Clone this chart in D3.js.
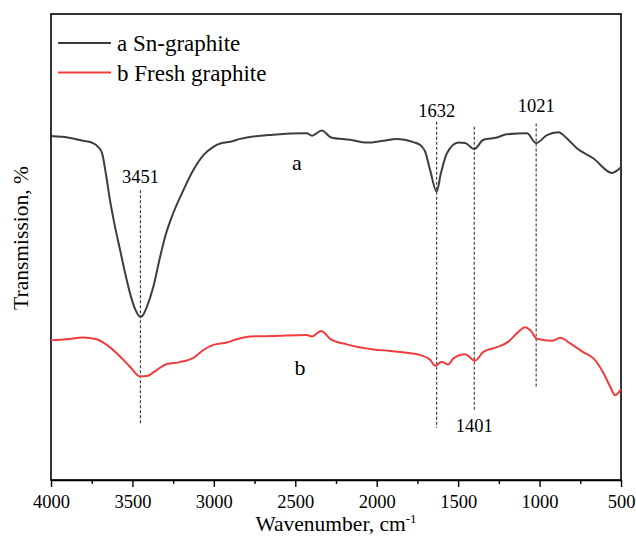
<!DOCTYPE html>
<html>
<head>
<meta charset="utf-8">
<script src="https://cdn.jsdelivr.net/npm/d3@7"></script>
<style>
  body { margin: 0; background: #fff; }
  text { font-family: "Liberation Serif", "Times New Roman", serif; fill: #000; }
</style>
</head>
<body>
<div id="content"></div>
<script>
// spectrum a : Sn-graphite
var waveA = [4000, 3883, 3803, 3742, 3711, 3687, 3662, 3638, 3613, 3576, 3545, 3515, 3484, 3451, 3435, 3412,
             3372, 3330, 3300, 3249, 3187, 3126, 3064, 3003, 2951, 2900, 2839, 2636, 2429, 2397, 2337, 2280,
             2163, 2061, 1959, 1877, 1775, 1733, 1703, 1672, 1632, 1606, 1569, 1498, 1457, 1401, 1345, 1262,
             1201, 1078, 1021, 955, 884, 832, 771, 669, 556, 500];
var transA = [73.8, 73.4, 72.8, 72.3, 71.5, 70.2, 65.5, 60.1, 55.4, 49.4, 44.4, 40.1, 36.7, 35.0, 35.4, 37.1,
              41.4, 47.9, 52.1, 57.3, 62.2, 66.5, 69.7, 71.5, 72.3, 72.6, 73.2, 74.1, 74.4, 73.9, 75.0, 73.5,
              73.0, 72.4, 72.8, 73.2, 72.5, 71.9, 70.5, 66.5, 61.9, 65.8, 70.1, 72.4, 72.3, 71.0, 73.0, 73.5,
              74.2, 74.4, 72.3, 74.0, 74.6, 73.3, 71.2, 69.0, 65.9, 67.1];

// spectrum b : fresh graphite
var waveB = [4000, 3904, 3802, 3719, 3658, 3596, 3515, 3453, 3412, 3351, 3289, 3208, 3126, 3064, 3003, 2921,
             2859, 2778, 2635, 2429, 2399, 2341, 2286, 2184, 2020, 1918, 1815, 1723, 1672, 1641, 1600, 1560,
             1529, 1457, 1396, 1345, 1262, 1191, 1139, 1088, 1058, 1017, 924, 873, 812, 730, 669, 607,
             566, 536, 500];
var transB = [30.0, 30.2, 30.6, 30.2, 29.0, 27.2, 24.3, 22.2, 22.3, 23.6, 24.9, 25.3, 26.2, 27.9, 29.0, 29.5,
              30.2, 30.8, 30.9, 31.1, 30.8, 32.0, 30.3, 29.1, 28.0, 27.7, 27.3, 26.7, 25.8, 24.5, 25.4, 24.8,
              26.1, 27.0, 25.6, 27.5, 28.5, 29.7, 31.5, 32.8, 32.2, 30.3, 29.9, 30.5, 29.3, 27.4, 26.1, 22.9,
              20.0, 18.2, 19.5];

// marked peaks
var peakWaves = [3451, 1632, 1401, 1021];
var peakLabels = ["3451", "1632", "1401", "1021"];
var peakTop = [62.2, 76.9, 75.8, 76.5];
var peakBottom = [12.2, 11.2, 15.0, 20.0];
var peakLabelAt = [63.7, 78.0, 10.2, 79.0];

var seriesNames = ["a Sn-graphite", "b Fresh graphite"];
var seriesColors = ["#3d3d3d", "#f03c3c"];

var xTicks = [4000, 3500, 3000, 2500, 2000, 1500, 1000, 500];
var xMinorTicks = [3750, 3250, 2750, 2250, 1750, 1250, 750];

var frameWidth = 636;
var frameHeight = 539;
var plotLeft = 51, plotRight = 621, plotTop = 14, plotBottom = 480;

var x = d3.scaleLinear().domain([4000, 500]).range([plotLeft, plotRight]);
var y = d3.scaleLinear().domain([0, 100]).range([plotBottom, plotTop]);

var frame = d3.select("#content").append("svg")
                                    .attr("width", frameWidth)
                                    .attr("height", frameHeight);

// box
frame.append("rect")
        .attr("x", plotLeft)
        .attr("y", plotTop)
        .attr("width", plotRight - plotLeft)
        .attr("height", plotBottom - plotTop)
        .attr("fill", "none")
        .attr("stroke", "#000")
        .attr("stroke-width", 1.6);

// x axis, major + minor ticks
var xAxis = frame.append("g")
                    .attr("transform", "translate(0," + plotBottom + ")")
                    .call(d3.axisBottom(x).tickValues(xTicks).tickSize(7).tickSizeOuter(0).tickFormat(d3.format("d")));
xAxis.select(".domain").attr("stroke-width", 1.6);
xAxis.selectAll(".tick line").attr("stroke-width", 1.4);
xAxis.selectAll(".tick text")
        .attr("font-size", "18.5px")
        .attr("font-family", "Liberation Serif")
        .attr("dy", "0.95em");

var xMinor = frame.append("g")
                     .attr("transform", "translate(0," + plotBottom + ")")
                     .call(d3.axisBottom(x).tickValues(xMinorTicks).tickSize(4).tickSizeOuter(0).tickFormat(""));
xMinor.select(".domain").remove();
xMinor.selectAll(".tick line").attr("stroke-width", 1.4);

// axis titles
var xTitle = frame.append("text")
                     .attr("x", (plotLeft + plotRight) / 2)
                     .attr("y", 531)
                     .attr("text-anchor", "middle")
                     .attr("font-size", "21.5px");
xTitle.append("tspan").text("Wavenumber, cm");
xTitle.append("tspan").attr("dy", -8).attr("font-size", "13px").text("-1");

frame.append("text")
        .attr("transform", "translate(28,238) rotate(-90)")
        .attr("text-anchor", "middle")
        .attr("font-size", "21.5px")
        .text("Transmission, %");

// dashed peak markers
var peaks = frame.append("g");
peakWaves.forEach(function(w, i) {
  peaks.append("line")
          .attr("x1", x(w)).attr("x2", x(w))
          .attr("y1", y(peakTop[i])).attr("y2", y(peakBottom[i]))
          .attr("stroke", "#333")
          .attr("stroke-width", 1.1)
          .attr("stroke-dasharray", "3,2");
  peaks.append("text")
          .attr("x", x(w))
          .attr("y", y(peakLabelAt[i]))
          .attr("text-anchor", "middle")
          .attr("font-size", "18.5px")
          .text(peakLabels[i]);
});

// spectra
var line = d3.line()
                .x(function(d) { return x(d[0]); })
                .y(function(d) { return y(d[1]); })
                .curve(d3.curveMonotoneX);

var dataA = d3.zip(waveA, transA);
var dataB = d3.zip(waveB, transB);

frame.append("path")
        .datum(dataB)
        .attr("d", line)
        .attr("fill", "none")
        .attr("stroke", seriesColors[1])
        .attr("stroke-width", 2);
frame.append("path")
        .datum(dataA)
        .attr("d", line)
        .attr("fill", "none")
        .attr("stroke", seriesColors[0])
        .attr("stroke-width", 2);

// curve labels
frame.append("text").attr("x", 297).attr("y", 170).attr("text-anchor", "middle").attr("font-size", "22px").text("a");
frame.append("text").attr("x", 300).attr("y", 375).attr("text-anchor", "middle").attr("font-size", "22px").text("b");

// legend
var legend = frame.append("g");
seriesNames.forEach(function(name, i) {
  legend.append("line")
           .attr("x1", 58).attr("x2", 111)
           .attr("y1", 43 + i * 29.5).attr("y2", 43 + i * 29.5)
           .attr("stroke", seriesColors[i])
           .attr("stroke-width", 2);
  legend.append("text")
           .attr("x", 117)
           .attr("y", 51 + i * 29.5)
           .attr("font-size", "23px")
           .text(name);
});
</script>
</body>
</html>
